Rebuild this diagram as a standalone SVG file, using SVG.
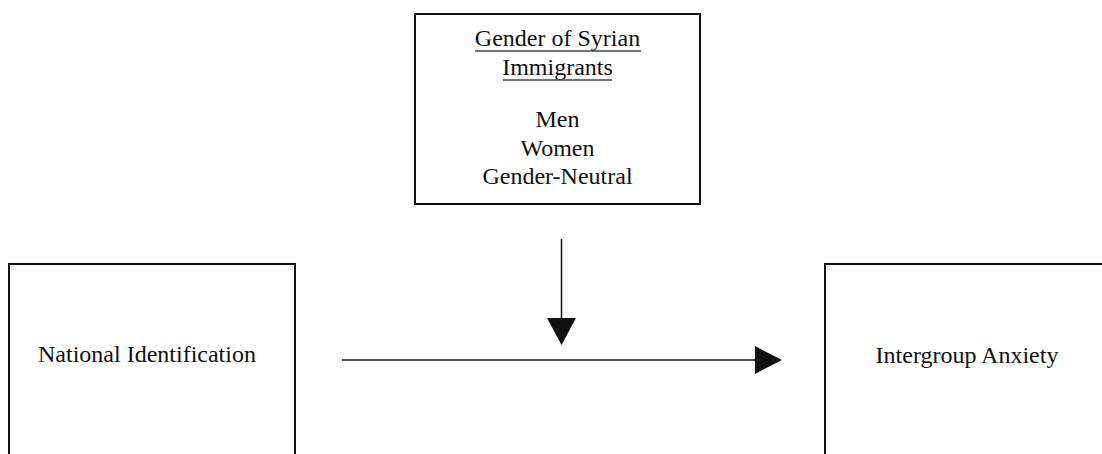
<svg xmlns="http://www.w3.org/2000/svg" width="1102" height="454" viewBox="0 0 1102 454">
<style>
.box{fill:#fff;stroke:#111;stroke-width:2}
.t{font-family:"Liberation Serif","Times New Roman",serif;font-size:24px;fill:#111;text-anchor:middle}
.ul{stroke:#444;stroke-width:1.5}
.ln{stroke:#111;stroke-width:1.5;fill:none}
.ah{fill:#111}
</style>
<rect width="1102" height="454" fill="#fff"/>
<g id="node-gender">
<rect class="box" x="415" y="14" width="285" height="190"/>
<text class="t" x="557.5" y="45.5">Gender of Syrian</text>
<line class="ul" x1="475" y1="51" x2="641" y2="51"/>
<text class="t" x="557.5" y="75">Immigrants</text>
<line class="ul" x1="503" y1="80" x2="612" y2="80"/>
<text class="t" x="557.5" y="127">Men</text>
<text class="t" x="557.5" y="156">Women</text>
<text class="t" x="557.5" y="184">Gender-Neutral</text>
</g>
<g id="node-national">
<rect class="box" x="9" y="264" width="286" height="200"/>
<text class="t" x="147" y="362">National Identification</text>
</g>
<g id="node-anxiety">
<rect class="box" x="825" y="264" width="300" height="200"/>
<text class="t" x="967" y="363">Intergroup Anxiety</text>
</g>
<g id="connectors">
<line class="ln" x1="342" y1="360" x2="756" y2="360"/>
<polygon class="ah" points="755,346 782,360 755,374"/>
<line class="ln" x1="561.5" y1="239" x2="561.5" y2="319"/>
<polygon class="ah" points="547,318 576,318 561.5,345"/>
</g>
</svg>
